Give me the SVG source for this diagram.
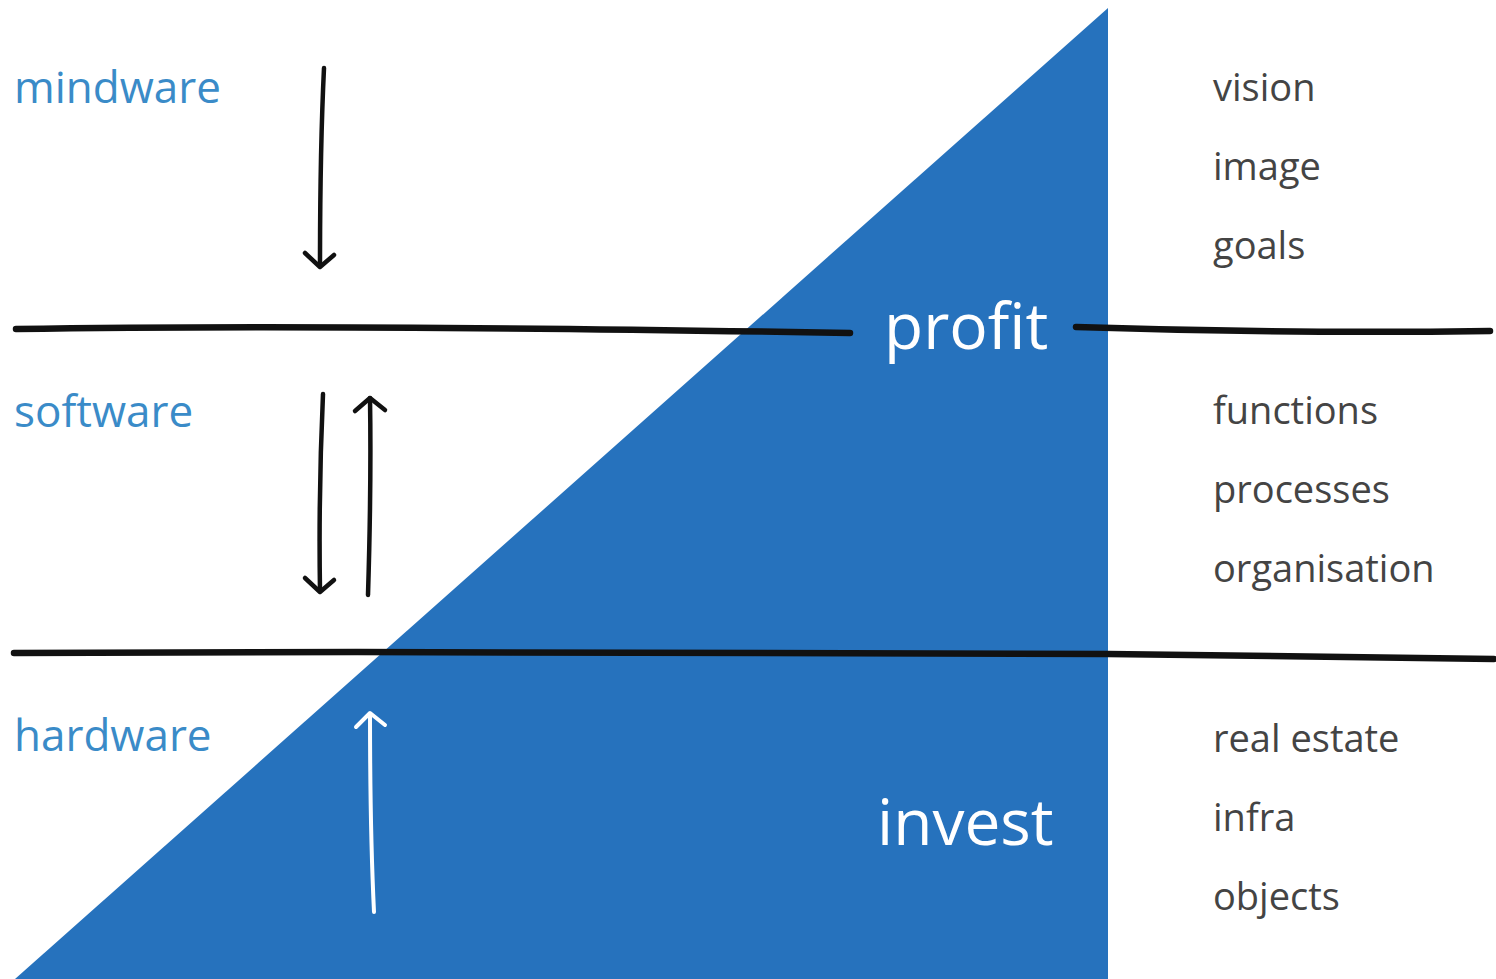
<svg xmlns="http://www.w3.org/2000/svg" width="1496" height="979" viewBox="0 0 1496 979">
<style>
.lbl{font-family:"Open Sans","Liberation Sans",sans-serif;font-size:44px;fill:#3a8bc8}
.itm{font-family:"Open Sans","Liberation Sans",sans-serif;font-size:38px;fill:#444444}
.big{font-family:"Open Sans","Liberation Sans",sans-serif;font-size:64px;fill:#ffffff}
.rule{fill:none;stroke:#111;stroke-width:6.5;stroke-linecap:round}
.arr{fill:none;stroke:#111;stroke-width:4.5;stroke-linecap:round;stroke-linejoin:round}
.arrw{fill:none;stroke:#fff;stroke-width:4;stroke-linecap:round;stroke-linejoin:round}
</style>
<rect width="1496" height="979" fill="#fff"/>
<polygon id="triangle" points="15,979 1108,8 1108,979" fill="#2672bd"/>
<g id="rules">
<path class="rule" d="M16,329 C200,326 500,327 850,333"/>
<path class="rule" d="M1076,327 C1200,331 1350,333 1490,331"/>
<path class="rule" d="M14,653 C400,651 900,652 1108,654 C1300,656 1420,659 1494,659"/>
</g>
<g id="connectors">
<path class="arr" d="M324,68 C321,130 320,200 320,266"/>
<path class="arr" d="M305,253 L320,267 L334,255"/>
<path class="arr" d="M323,394 C320,460 319,530 320,591"/>
<path class="arr" d="M305,578 L320,592 L334,580"/>
<path class="arr" d="M368,595 C370,530 371,460 370,398"/>
<path class="arr" d="M355,411 L370,398 L385,410"/>
<path class="arrw" d="M374,912 C371,850 370,780 370,714"/>
<path class="arrw" d="M356,727 L370,713 L385,725"/>
</g>
<g id="mindware"><text class="lbl" x="14" y="103">mindware</text></g>
<g id="software"><text class="lbl" x="14" y="427">software</text></g>
<g id="hardware"><text class="lbl" x="14" y="751">hardware</text></g>
<g id="profit"><text class="big" x="884" y="349">profit</text></g>
<g id="invest"><text class="big" x="877" y="845">invest</text></g>
<g id="vision"><text class="itm" x="1213" y="101">vision</text></g>
<g id="image"><text class="itm" x="1213" y="180">image</text></g>
<g id="goals"><text class="itm" x="1213" y="259">goals</text></g>
<g id="functions"><text class="itm" x="1213" y="424">functions</text></g>
<g id="processes"><text class="itm" x="1213" y="503">processes</text></g>
<g id="organisation"><text class="itm" x="1213" y="582">organisation</text></g>
<g id="realestate"><text class="itm" x="1213" y="752">real estate</text></g>
<g id="infra"><text class="itm" x="1213" y="831">infra</text></g>
<g id="objects"><text class="itm" x="1213" y="910">objects</text></g>
</svg>
